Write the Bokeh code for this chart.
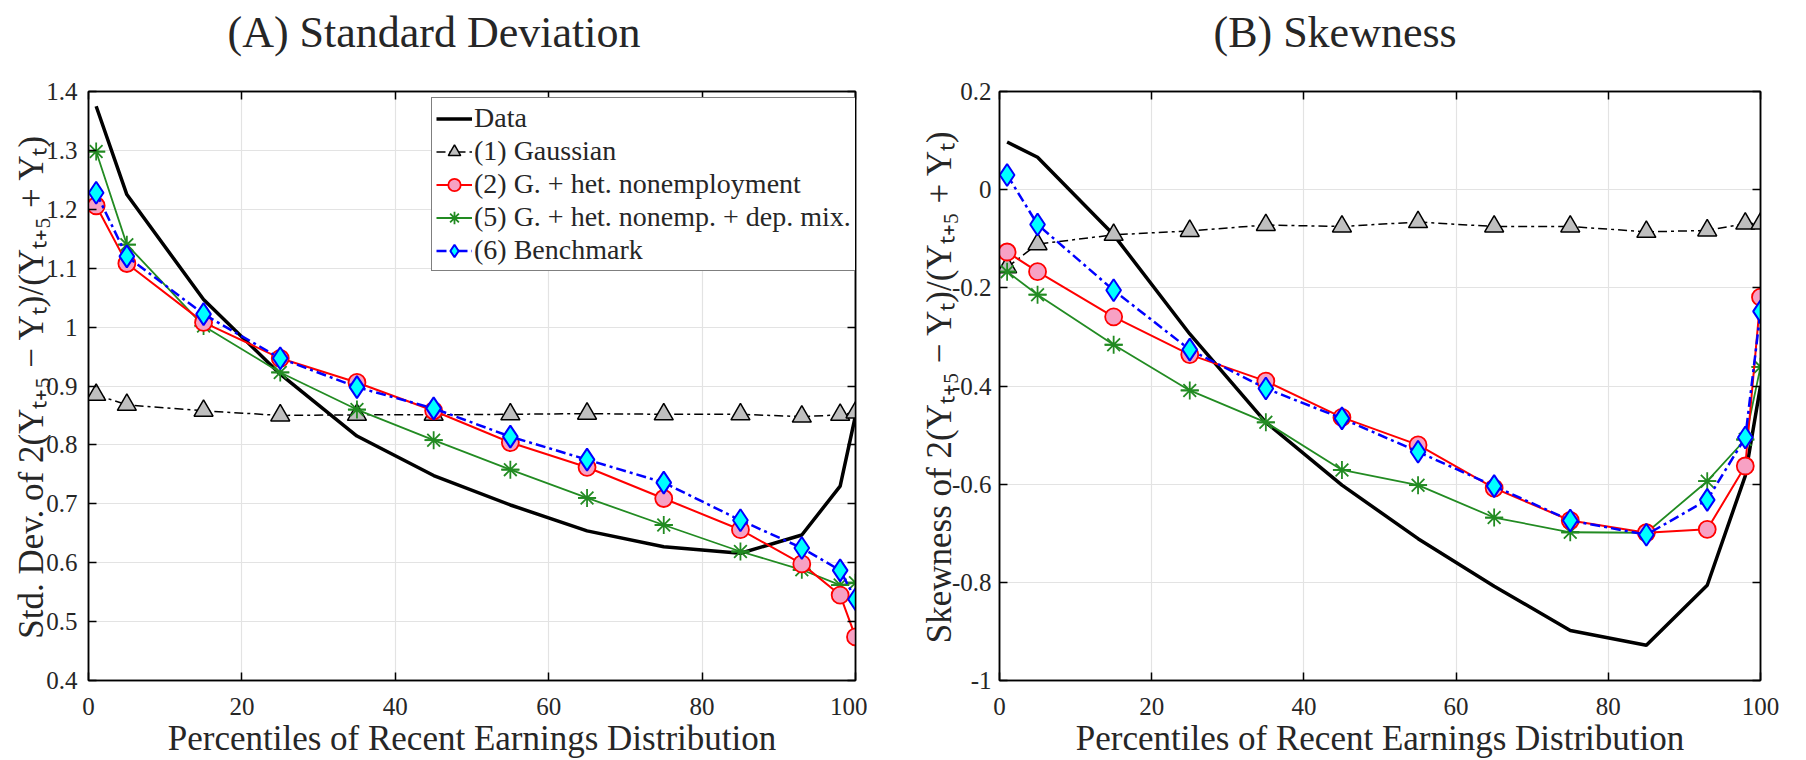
from bokeh.plotting import figure
from bokeh.models import (LinearAxis, FixedTicker, CustomJSTickFormatter, Range1d,
                          Legend, LegendItem)
from bokeh.layouts import row
from bokeh.embed import file_html
from bokeh.resources import INLINE

# ---------------- data ----------------
pct = [1, 5, 15, 25, 35, 45, 55, 65, 75, 85, 93, 98, 100]

sd_data     = [1.375, 1.225, 1.047, 0.920, 0.815, 0.748, 0.698, 0.654, 0.627, 0.616, 0.647, 0.730, 0.850]
sd_gauss    = [0.885, 0.868, 0.858, 0.850, 0.851, 0.851, 0.852, 0.853, 0.852, 0.852, 0.848, 0.851, 0.855]
sd_hetnon   = [1.206, 1.108, 1.008, 0.947, 0.906, 0.858, 0.804, 0.762, 0.709, 0.656, 0.598, 0.545, 0.474]
sd_depmix   = [1.298, 1.140, 1.002, 0.923, 0.860, 0.808, 0.758, 0.710, 0.664, 0.619, 0.588, 0.562, 0.566]
sd_bench    = [1.228, 1.120, 1.022, 0.947, 0.898, 0.862, 0.814, 0.775, 0.736, 0.672, 0.625, 0.587, 0.538]

sk_data     = [0.097, 0.066, -0.092, -0.294, -0.474, -0.602, -0.711, -0.808, -0.898, -0.928, -0.806, -0.583, -0.400]
sk_gauss    = [-0.158, -0.111, -0.092, -0.084, -0.072, -0.075, -0.066, -0.075, -0.075, -0.086, -0.083, -0.069, -0.069]
sk_hetnon   = [-0.127, -0.167, -0.259, -0.336, -0.390, -0.464, -0.520, -0.608, -0.674, -0.699, -0.692, -0.563, -0.219]
sk_depmix   = [-0.167, -0.214, -0.316, -0.409, -0.474, -0.571, -0.602, -0.668, -0.698, -0.699, -0.594, -0.509, -0.361]
sk_bench    = [0.030, -0.071, -0.205, -0.326, -0.405, -0.466, -0.534, -0.604, -0.674, -0.703, -0.632, -0.505, -0.248]

x_ticks = [0, 20, 40, 60, 80, 100]
sd_ticks = [0.4, 0.5, 0.6, 0.7, 0.8, 0.9, 1.0, 1.1, 1.2, 1.3, 1.4]
sk_ticks = [-1.0, -0.8, -0.6, -0.4, -0.2, 0.0, 0.2]

series_labels = ["Data", "(1) Gaussian", "(2) G. + het. nonemployment",
                 "(5) G. + het. nonemp. + dep. mix.", "(6) Benchmark"]

titles = ["(A) Standard Deviation", "(B) Skewness"]
ylabels = ["Std. Dev. of 2(Y\u209c\u208a\u2085 \u2212 Y\u209c)/(Y\u209c\u208a\u2085 + Y\u209c)",
           "Skewness of 2(Y\u209c\u208a\u2085 \u2212 Y\u209c)/(Y\u209c\u208a\u2085 + Y\u209c)"]
xlabel = "Percentiles of Recent Earnings Distribution"

FONT = "Liberation Serif"
FMT = CustomJSTickFormatter(code="return String(Number(tick.toFixed(2)));")
BLANK = CustomJSTickFormatter(code="return '';")


def make_panel(ydata, yticks, yrange, title, title_offset, ylabel, ylab_standoff,
               ytick_standoff, frame_w, borders, legend=False):
    bl, br = borders
    p = figure(frame_width=frame_w, frame_height=589,
               x_range=Range1d(0, 100), y_range=Range1d(*yrange),
               output_backend="svg", toolbar_location=None, title=title,
               min_border_left=bl, min_border_right=br,
               min_border_top=110, min_border_bottom=60,
               margin=(-30, 0, 0, 0),
               background_fill_color="white", border_fill_color="white")
    p.outline_line_color = "black"
    p.outline_line_width = 1.5

    p.title.align = "left"
    p.title.offset = title_offset
    p.title.text_font = FONT
    p.title.text_font_size = "44px"
    p.title.text_font_style = "normal"
    p.title.text_color = "#262626"
    p.title.standoff = 70

    for ax, ticks in ((p.xaxis[0], x_ticks), (p.yaxis[0], yticks)):
        ax.ticker = FixedTicker(ticks=ticks)
        ax.formatter = FMT
        ax.major_label_text_font = FONT
        ax.major_label_text_font_size = "25px"
        ax.major_label_text_color = "#262626"
        ax.major_tick_in = 8
        ax.major_tick_out = 0
        ax.minor_tick_line_color = None
        ax.axis_line_color = "black"
        ax.axis_line_width = 1.5
        ax.major_tick_line_width = 1.5
        ax.axis_label_text_font = FONT
        ax.axis_label_text_font_style = "normal"
        ax.axis_label_text_font_size = "35px"
        ax.axis_label_text_color = "#262626"
    p.xaxis.major_label_standoff = 17
    p.yaxis.major_label_standoff = ytick_standoff
    p.xaxis.axis_label = xlabel
    p.xaxis.axis_label_standoff = 1
    p.yaxis.axis_label = ylabel
    p.yaxis.axis_label_standoff = ylab_standoff

    for side, ticks in (("above", x_ticks), ("right", yticks)):
        ax = LinearAxis(ticker=FixedTicker(ticks=ticks), formatter=BLANK,
                        major_label_standoff=0, major_tick_in=8, major_tick_out=0,
                        minor_tick_line_color=None, axis_line_color="black",
                        axis_line_width=1.5, major_tick_line_width=1.5)
        p.add_layout(ax, side)

    p.xgrid.ticker = FixedTicker(ticks=x_ticks)
    p.ygrid.ticker = FixedTicker(ticks=yticks)
    p.grid.grid_line_color = "#e3e3e3"
    p.grid.grid_line_width = 1.2

    d, g, h, m, b = ydata
    r_d = p.line(pct, d, line_color="black", line_width=3.5)

    r_gl = p.line(pct, g, line_color="black", line_width=1.5, line_dash="9 4 3 4")
    r_gm = p.scatter(pct, g, marker="triangle", size=19, fill_color="#bfbfbf",
                     line_color="black", line_width=1.5)

    r_ml = p.line(pct, m, line_color="#228b22", line_width=1.8)
    r_m1 = p.scatter(pct, m, marker="asterisk", size=18, line_color="#228b22", line_width=1.8)
    r_m2 = p.scatter(pct, m, marker="dash", size=18, line_color="#228b22", line_width=1.8)

    r_hl = p.line(pct, h, line_color="#ff0000", line_width=2)
    r_hm = p.scatter(pct, h, marker="circle", size=17, fill_color="#f7a1c4",
                     line_color="#ff0000", line_width=1.8)

    r_bl = p.line(pct, b, line_color="#0000ff", line_width=2.5, line_dash="10 4 3 4")
    r_bm = p.scatter(pct, b, marker="diamond", size=22, fill_color="#00ffff",
                     line_color="#0000ff", line_width=2)

    if legend:
        items = [
            LegendItem(label=series_labels[0], renderers=[r_d]),
            LegendItem(label=series_labels[1], renderers=[r_gl, r_gm]),
            LegendItem(label=series_labels[2], renderers=[r_hl, r_hm]),
            LegendItem(label=series_labels[3], renderers=[r_ml, r_m1, r_m2]),
            LegendItem(label=series_labels[4], renderers=[r_bl, r_bm]),
        ]
        lg = Legend(items=items, location=(343, 409),
                    label_text_font=FONT, label_text_font_size="28px",
                    label_text_color="#262626",
                    glyph_width=36, glyph_height=31, label_height=31,
                    label_standoff=2, spacing=1, padding=4, margin=0,
                    border_line_color="black", border_line_width=1.2,
                    background_fill_color="white", background_fill_alpha=1.0)
        p.add_layout(lg, "center")
    return p


p1 = make_panel([sd_data, sd_gauss, sd_hetnon, sd_depmix, sd_bench], sd_ticks, (0.4, 1.4),
                titles[0], 139, ylabels[0], -8, 11, 767, (88, 12), legend=True)
p2 = make_panel([sk_data, sk_gauss, sk_hetnon, sk_depmix, sk_bench], sk_ticks, (-1.0, 0.2),
                titles[1], 214, ylabels[1], -10, 8, 761, (132, 29))

layout = row(p1, p2)
open("out.html", "w").write(file_html(layout, INLINE))
